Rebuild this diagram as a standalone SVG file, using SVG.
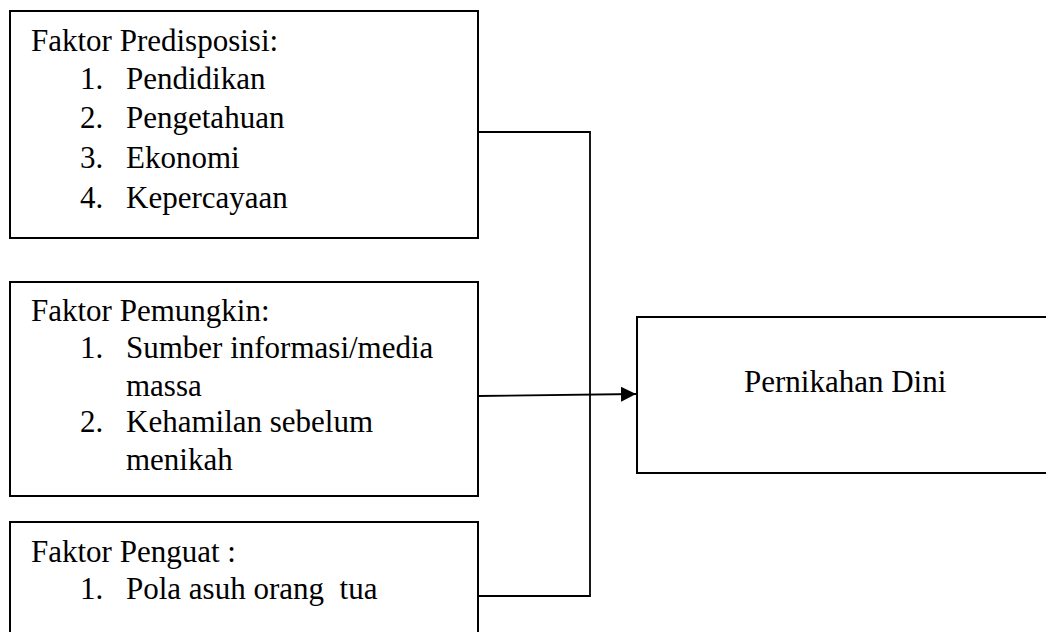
<svg xmlns="http://www.w3.org/2000/svg" width="1046" height="632" viewBox="0 0 1046 632">
<style>
.box{fill:#fff;stroke:#000;stroke-width:2}
.t{font-family:"Liberation Serif","Times New Roman",serif;font-size:31px;fill:#000}
.c{fill:none;stroke:#000;stroke-width:1.8}
</style>
<defs>
<marker id="arr" markerUnits="userSpaceOnUse" markerWidth="16" markerHeight="16" refX="15" refY="7.5" orient="auto">
<path d="M0,0 L15,7.5 L0,15 Z" fill="#000"/>
</marker>
</defs>
<rect width="1046" height="632" fill="#fff"/>
<g id="predisposisi">
<rect class="box" x="10" y="11" width="468" height="227"/>
<text class="t" x="31" y="51">Faktor Predisposisi:</text>
<text class="t" x="80" y="89">1.</text><text class="t" x="126" y="89">Pendidikan</text>
<text class="t" x="80" y="128">2.</text><text class="t" x="126" y="128">Pengetahuan</text>
<text class="t" x="80" y="168">3.</text><text class="t" x="126" y="168">Ekonomi</text>
<text class="t" x="80" y="208">4.</text><text class="t" x="126" y="208">Kepercayaan</text>
</g>
<g id="pemungkin">
<rect class="box" x="10" y="282" width="468" height="214"/>
<text class="t" x="31" y="321">Faktor Pemungkin:</text>
<text class="t" x="80" y="358">1.</text><text class="t" x="126" y="358">Sumber informasi/media</text>
<text class="t" x="126" y="396">massa</text>
<text class="t" x="80" y="432">2.</text><text class="t" x="126" y="432">Kehamilan sebelum</text>
<text class="t" x="126" y="470">menikah</text>
</g>
<g id="penguat">
<rect class="box" x="10" y="522" width="468" height="140"/>
<text class="t" x="31" y="562">Faktor Penguat :</text>
<text class="t" x="80" y="599">1.</text><text class="t" x="126" y="599" xml:space="preserve">Pola asuh orang  tua</text>
</g>
<g id="pernikahan">
<rect class="box" x="637" y="317" width="430" height="156"/>
<text class="t" x="744" y="392">Pernikahan Dini</text>
</g>
<g id="connectors">
<polyline class="c" points="478,132 590,132 590,596 478,596"/>
<line class="c" x1="478" y1="396" x2="636" y2="394" marker-end="url(#arr)"/>
</g>
</svg>
